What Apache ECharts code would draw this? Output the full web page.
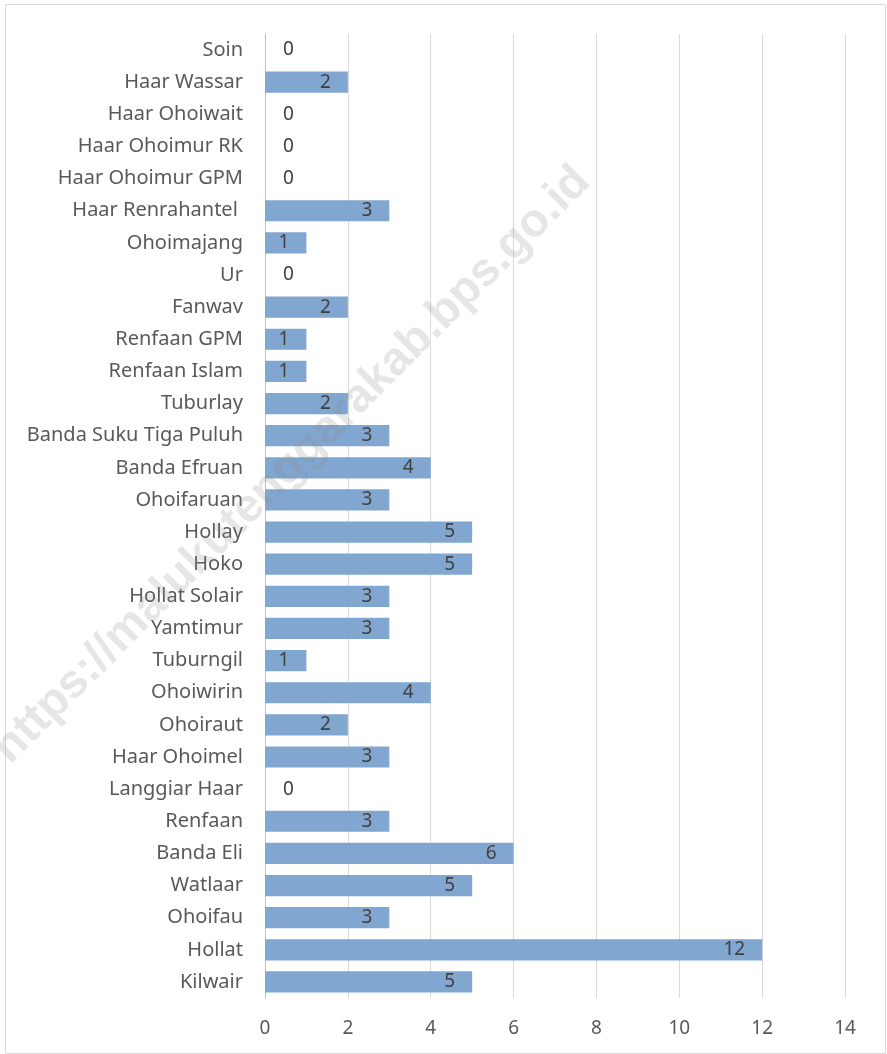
<!DOCTYPE html>
<html>
<head>
<meta charset="utf-8">
<script src="https://cdn.jsdelivr.net/npm/echarts@6/dist/echarts.min.js"></script>
<style>
html,body{margin:0;padding:0;background:#fff;}
#chart{width:887px;height:1054px;}
</style>
</head>
<body>
<div id="chart"></div>
<script>
const categories = ["Soin","Haar Wassar","Haar Ohoiwait","Haar Ohoimur RK","Haar Ohoimur GPM","Haar Renrahantel ","Ohoimajang","Ur","Fanwav","Renfaan GPM","Renfaan Islam","Tuburlay","Banda Suku Tiga Puluh","Banda Efruan","Ohoifaruan","Hollay","Hoko","Hollat Solair","Yamtimur","Tuburngil","Ohoiwirin","Ohoiraut","Haar Ohoimel","Langgiar Haar","Renfaan","Banda Eli","Watlaar","Ohoifau","Hollat","Kilwair"];
const values = [0,2,0,0,0,3,1,0,2,1,1,2,3,4,3,5,5,3,3,1,4,2,3,0,3,6,5,3,12,5];
const xTicks = [0,2,4,6,8,10,12,14];
const watermark = "https://malukutenggarakab.bps.go.id";

const FONT = "Noto Sans";
const chart = echarts.init(document.getElementById('chart'), null, {renderer:'canvas'});
const seriesData = values.map(v => v === 0
  ? {value: v, label: {position: 'right', distance: 18}}
  : {value: v});

chart.setOption({
  animation: false,
  backgroundColor: '#fff',
  grid: {left: 265, right: 42, top: 34, bottom: 56, containLabel: false},
  xAxis: {
    type: 'value', min: xTicks[0], max: xTicks[xTicks.length-1], interval: 2,
    axisLine: {show: false}, axisTick: {show: false},
    splitLine: {show: true, lineStyle: {color: '#d9d9d9', width: 1}},
    axisLabel: {color: '#595959', fontSize: 19, fontFamily: FONT, margin: 21}
  },
  yAxis: {
    type: 'category', data: categories, inverse: true,
    axisLine: {show: true, lineStyle: {color: '#bfbfbf', width: 1}},
    axisTick: {show: false},
    axisLabel: {color: '#595959', fontSize: 20, fontFamily: FONT, margin: 22}
  },
  series: [{
    type: 'bar', data: seriesData, barCategoryGap: '34%',
    itemStyle: {color: '#81A6D0'},
    label: {show: true, position: 'insideRight', distance: 17, color: '#404040', fontSize: 19, fontFamily: FONT}
  }],
  graphic: [
    {type: 'rect', shape: {x: 5.5, y: 4.5, width: 880, height: 1049}, style: {fill: null, stroke: '#d9d9d9', lineWidth: 1}, silent: true, z: -1},
    {type: 'text', x: 292, y: 465, rotation: Math.PI/4, z: 100,
     style: {text: watermark, fill: 'rgba(140,140,140,0.22)', font: 'bold 47px "Liberation Sans"', align: 'center', verticalAlign: 'middle'}}
  ]
});
</script>
</body>
</html>
